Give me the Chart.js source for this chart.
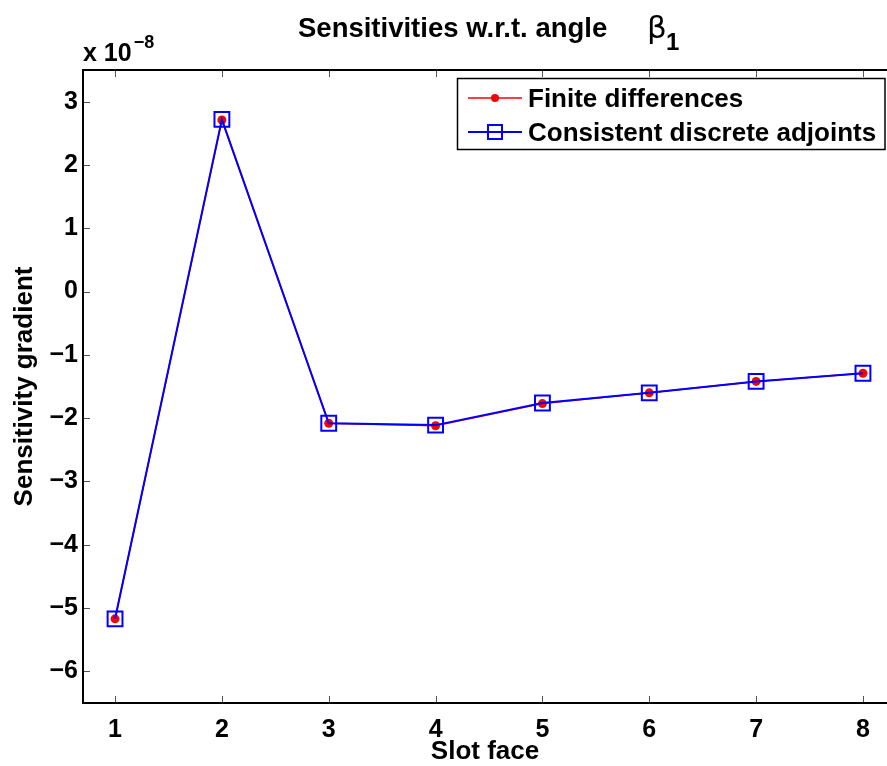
<!DOCTYPE html>
<html>
<head>
<meta charset="utf-8">
<script src="https://cdn.jsdelivr.net/npm/chart.js@4/dist/chart.umd.min.js"></script>
<style>
html,body{margin:0;padding:0;background:#fff;overflow:hidden;}
#wrap{position:relative;width:887px;height:766px;}
</style>
</head>
<body>
<div id="wrap"><canvas id="c" width="887" height="766"></canvas></div>
<script>
// ---- data ----
const slotFaces = [1, 2, 3, 4, 5, 6, 7, 8];
const finiteDifferences = [-5.17, 2.71, -2.08, -2.12, -1.77, -1.60, -1.42, -1.29];
const discreteAdjoints = [-5.17, 2.72, -2.08, -2.11, -1.76, -1.60, -1.42, -1.29];
const xTickValues = [1, 2, 3, 4, 5, 6, 7, 8];
const yTickValues = [-6, -5, -4, -3, -2, -1, 0, 1, 2, 3];
const seriesNames = ['Finite differences', 'Consistent discrete adjoints'];
const titleText = 'Sensitivities w.r.t. angle ';
const titleSymbol = '\u03B2';
const titleSub = '1';
const xAxisTitle = 'Slot face';
const yAxisTitle = 'Sensitivity gradient';
const exponentBase = 'x 10';
const exponentPower = '\u22128';

const FONT = '"Liberation Sans", Arial, Helvetica, sans-serif';

const toPts = (vals) => slotFaces.map((x, i) => ({x: x, y: vals[i]}));

const decorPlugin = {
  id: 'decor',
  beforeDraw(chart) {
    const ctx = chart.ctx;
    ctx.save();
    ctx.fillStyle = '#fff';
    ctx.fillRect(0, 0, chart.width, chart.height);
    ctx.restore();
  },
  afterDatasetsDraw(chart) {
    const ctx = chart.ctx;
    const a = chart.chartArea;
    const xs = chart.scales.x, ys = chart.scales.y;
    ctx.save();
    // tick marks (inward)
    ctx.strokeStyle = '#555';
    ctx.lineWidth = 1;
    const tl = 7;
    xTickValues.forEach(v => {
      const px = Math.round(xs.getPixelForValue(v)) + 0.5;
      ctx.beginPath();
      ctx.moveTo(px, a.bottom); ctx.lineTo(px, a.bottom - tl);
      ctx.moveTo(px, a.top); ctx.lineTo(px, a.top + tl);
      ctx.stroke();
    });
    yTickValues.forEach(v => {
      const py = Math.round(ys.getPixelForValue(v)) + 0.5;
      ctx.beginPath();
      ctx.moveTo(a.left, py); ctx.lineTo(a.left + tl, py);
      ctx.stroke();
    });
    // axes box (left, top, bottom)
    ctx.strokeStyle = '#000';
    ctx.lineWidth = 2;
    ctx.beginPath();
    ctx.moveTo(a.right + 2, a.top); ctx.lineTo(a.left, a.top);
    ctx.lineTo(a.left, a.bottom); ctx.lineTo(a.right + 2, a.bottom);
    ctx.stroke();

    // legend
    const lx = 457, ly = 78, lw = 429, lh = 72;
    ctx.fillStyle = '#fff';
    ctx.fillRect(lx, ly, lw, lh);
    ctx.strokeStyle = '#000';
    ctx.lineWidth = 1.5;
    ctx.strokeRect(lx + 0.5, ly + 0.5, lw - 1.5, lh - 1);
    const rows = [ly + 20, ly + 54];
    ctx.font = 'bold 26px ' + FONT;
    ctx.textBaseline = 'middle';
    ctx.textAlign = 'left';
    chart.data.datasets.forEach((ds, i) => {
      const y = rows[i];
      ctx.strokeStyle = ds.borderColor;
      ctx.lineWidth = ds.borderWidth;
      ctx.beginPath(); ctx.moveTo(468, y); ctx.lineTo(522, y); ctx.stroke();
      if (i === 0) {
        ctx.fillStyle = ds.pointBackgroundColor;
        ctx.beginPath(); ctx.arc(495, y, 4, 0, Math.PI * 2); ctx.fill();
      } else {
        ctx.strokeStyle = ds.pointBorderColor;
        ctx.lineWidth = 2;
        ctx.strokeRect(488, y - 7, 14, 14);
      }
      ctx.fillStyle = '#000';
      ctx.fillText(ds.label, 528, y + 2);
    });

    // exponent label
    ctx.textBaseline = 'alphabetic';
    ctx.font = 'bold 25px ' + FONT;
    ctx.fillText(exponentBase, 83, 61);
    const bw = ctx.measureText(exponentBase).width;
    ctx.font = 'bold 18px ' + FONT;
    ctx.fillText(exponentPower, 83 + bw + 2, 48);

    // title
    ctx.font = 'bold 27.5px ' + FONT;
    ctx.fillText(titleText, 298, 37);
    ctx.font = '31px "DejaVu Sans", sans-serif';
    ctx.fillText(titleSymbol, 647, 38);
    ctx.font = 'bold 24px ' + FONT;
    ctx.fillText(titleSub, 666, 50);
    ctx.restore();
  }
};

new Chart(document.getElementById('c'), {
  type: 'line',
  data: {
    datasets: [
      {
        label: seriesNames[0],
        data: toPts(finiteDifferences),
        borderColor: '#ff0000',
        backgroundColor: '#ff0000',
        borderWidth: 1.5,
        pointStyle: 'circle',
        pointRadius: 4.5,
        pointBorderWidth: 0,
        pointBackgroundColor: '#ff0000',
        pointBorderColor: '#ff0000',
        tension: 0,
        order: 2
      },
      {
        label: seriesNames[1],
        data: toPts(discreteAdjoints),
        borderColor: '#0000ff',
        backgroundColor: 'rgba(0,0,0,0)',
        borderWidth: 2,
        pointStyle: 'rect',
        pointRadius: 10.5,
        pointBorderWidth: 2,
        pointBackgroundColor: 'rgba(0,0,0,0)',
        pointBorderColor: '#0000ff',
        tension: 0,
        order: 1
      }
    ]
  },
  options: {
    responsive: false,
    animation: false,
    events: [],
    layout: {autoPadding: false, padding: {left: 0, right: 0, top: 70, bottom: 0}},
    plugins: {legend: {display: false}, tooltip: {enabled: false}, title: {display: false}},
    scales: {
      x: {
        type: 'linear',
        min: 0.7,
        max: 8.225,
        grid: {display: false, drawTicks: false},
        border: {display: false},
        afterBuildTicks: (s) => { s.ticks = xTickValues.map(v => ({value: v})); },
        afterFit: (s) => { s.height = 63; s.paddingLeft = 0; s.paddingRight = 0; },
        ticks: {
          color: '#000',
          padding: 12,
          maxRotation: 0,
          autoSkip: false,
          font: {family: FONT, size: 25, weight: 'bold'},
          callback: (v) => String(v)
        },
        title: {
          display: true,
          text: xAxisTitle,
          color: '#000',
          font: {family: FONT, size: 26, weight: 'bold', lineHeight: 1},
          padding: {top: 0, bottom: 1}
        }
      },
      y: {
        type: 'linear',
        min: -6.5,
        max: 3.5,
        grid: {display: false, drawTicks: false},
        border: {display: false},
        afterBuildTicks: (s) => { s.ticks = yTickValues.map(v => ({value: v})); },
        afterFit: (s) => { s.width = 83; s.paddingTop = 0; s.paddingBottom = 0; },
        ticks: {
          color: '#000',
          padding: 5,
          autoSkip: false,
          font: {family: FONT, size: 25, weight: 'bold'},
          callback: (v) => String(v).replace('-', '\u2212')
        },
        title: {
          display: true,
          text: yAxisTitle,
          color: '#000',
          font: {family: FONT, size: 26, weight: 'bold', lineHeight: 1},
          padding: {top: 12, bottom: 0}
        }
      }
    }
  },
  plugins: [decorPlugin]
});
</script>
</body>
</html>
